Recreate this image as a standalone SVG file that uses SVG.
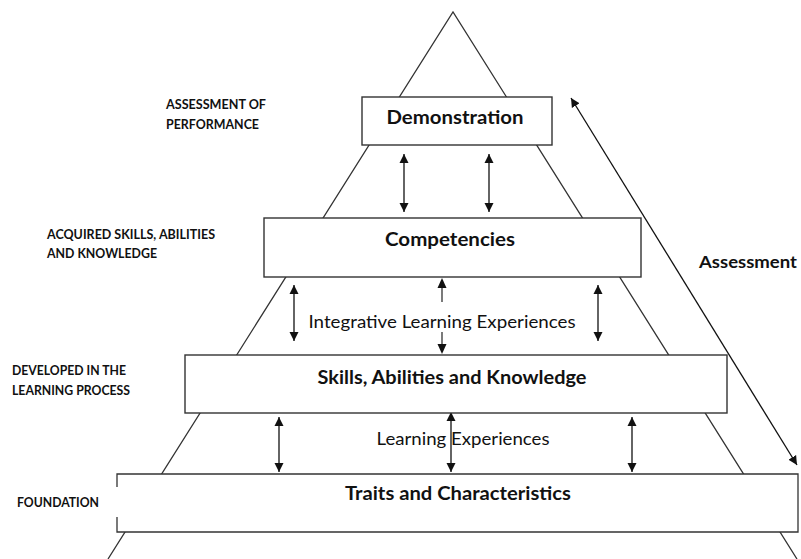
<svg xmlns="http://www.w3.org/2000/svg" width="801" height="559" viewBox="0 0 801 559">
<defs>
<marker id="ah" viewBox="0 0 10 10" refX="10" refY="5" markerWidth="9" markerHeight="10" markerUnits="userSpaceOnUse" orient="auto-start-reverse">
<path d="M0,0 L10,5 L0,10 z" fill="#111"/>
</marker>
<style>
.ln{stroke:#333;stroke-width:1.3;fill:none}
.bx{fill:#fff;stroke:#333;stroke-width:1.4}
.ar{stroke:#111;stroke-width:1.3;fill:none;marker-start:url(#ah);marker-end:url(#ah)}
.t{font-family:Lato,"Open Sans","Liberation Sans",sans-serif;fill:#111;text-anchor:middle}
.b{font-weight:bold;font-size:18px}
.r{font-size:17.5px}
.s{font-family:Lato,"Open Sans","Liberation Sans",sans-serif;font-weight:bold;font-size:12.5px;fill:#111}
</style>
</defs>
<rect width="801" height="559" fill="#fff"/>
<g id="pyramid">
<polyline class="ln" points="108,559 453,12 797,559"/>
</g>
<g id="connectors">
<line class="ar" x1="404" y1="154" x2="404" y2="212"/>
<line class="ar" x1="489" y1="154" x2="489" y2="212"/>
<line class="ar" x1="294" y1="285" x2="294" y2="341"/>
<line class="ar" x1="598" y1="285" x2="598" y2="341"/>
<line class="ln" x1="442" y1="302" x2="442" y2="287"/>
<path d="M437.5,288 L442,278 L446.5,288 z" fill="#111"/>
<line class="ln" x1="442" y1="332" x2="442" y2="344"/>
<path d="M437.5,344 L442,354 L446.5,344 z" fill="#111"/>
<line class="ar" x1="279" y1="417" x2="279" y2="472"/>
<line class="ar" x1="451" y1="412" x2="451" y2="472"/>
<line class="ar" x1="632" y1="417" x2="632" y2="472"/>
<line class="ar" x1="571" y1="98" x2="797" y2="465"/>
</g>
<g id="demonstration">
<rect class="bx" x="362" y="97" width="190" height="48"/>
<text class="t b" x="455" y="124" textLength="137" lengthAdjust="spacingAndGlyphs">Demonstration</text>
</g>
<g id="competencies">
<rect class="bx" x="264" y="218" width="377" height="59"/>
<text class="t b" x="450" y="246" textLength="130" lengthAdjust="spacingAndGlyphs">Competencies</text>
</g>
<g id="skills">
<rect class="bx" x="185" y="355" width="542" height="58"/>
<text class="t b" x="452" y="384" textLength="269" lengthAdjust="spacingAndGlyphs">Skills, Abilities and Knowledge</text>
</g>
<g id="traits">
<rect x="117" y="474" width="681" height="58" fill="#fff" stroke="none"/>
<polyline class="ln" points="117,487 117,474 798,474 798,532 117,532 117,517"/>
<text class="t b" x="458" y="500" textLength="226" lengthAdjust="spacingAndGlyphs">Traits and Characteristics</text>
</g>
<g id="labels">
<text class="t r" x="442" y="328" textLength="267" lengthAdjust="spacingAndGlyphs">Integrative Learning Experiences</text>
<text class="t r" x="463" y="445" textLength="173" lengthAdjust="spacingAndGlyphs">Learning Experiences</text>
<text class="t b" x="748" y="268" font-size="17" style="font-size:17px" textLength="98" lengthAdjust="spacingAndGlyphs">Assessment</text>
<text class="s" x="166" y="109" textLength="100" lengthAdjust="spacingAndGlyphs">ASSESSMENT OF</text>
<text class="s" x="166" y="129" textLength="93" lengthAdjust="spacingAndGlyphs">PERFORMANCE</text>
<text class="s" x="47" y="239" textLength="168" lengthAdjust="spacingAndGlyphs">ACQUIRED SKILLS, ABILITIES</text>
<text class="s" x="47" y="258" textLength="110" lengthAdjust="spacingAndGlyphs">AND KNOWLEDGE</text>
<text class="s" x="12" y="375" textLength="114" lengthAdjust="spacingAndGlyphs">DEVELOPED IN THE</text>
<text class="s" x="12" y="395" textLength="118" lengthAdjust="spacingAndGlyphs">LEARNING PROCESS</text>
<text class="s" x="17" y="507" textLength="82" lengthAdjust="spacingAndGlyphs">FOUNDATION</text>
</g>
</svg>
